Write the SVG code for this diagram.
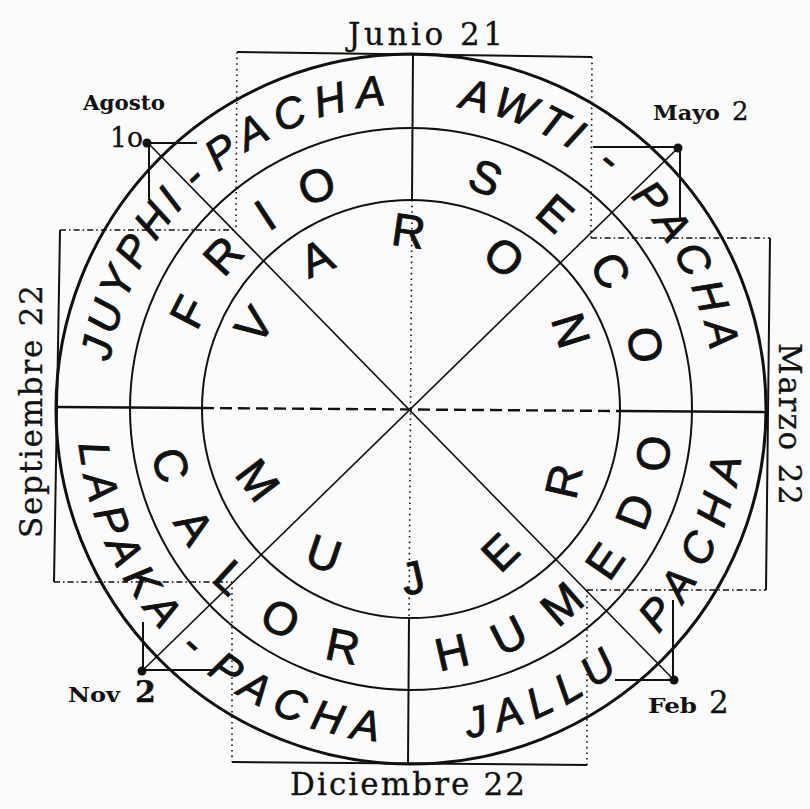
<svg xmlns="http://www.w3.org/2000/svg" xmlns:xlink="http://www.w3.org/1999/xlink" width="810" height="809" viewBox="0 0 810 809">
<style>
.ro{font-family:"Liberation Sans",Arial,sans-serif;font-size:43px;font-style:italic;fill:#111;stroke:#111;stroke-width:0.9}
.rm{font-family:"Liberation Sans",Arial,sans-serif;font-size:46px;fill:#111;stroke:#111;stroke-width:0.9}
.big{font-family:"DejaVu Serif","Liberation Serif",serif;font-size:31px;fill:#111;stroke:#111;stroke-width:0.3}
.sm{font-family:"DejaVu Serif","Liberation Serif",serif;font-size:21px;font-weight:bold;fill:#111}
.num{font-family:"DejaVu Serif","Liberation Serif",serif;fill:#111;stroke:#111;stroke-width:0.3}
.ln{stroke:#111;fill:none}
.dot{stroke:#111;fill:none;stroke-width:1.6;stroke-dasharray:1.6 4}
.dd{stroke:#111;fill:none;stroke-width:1.6;stroke-dasharray:6 3 1.6 3}
</style>
<defs>
<path id="top305" d="M106,409 A305,305 0 1 1 716,409 A305,305 0 1 1 106,409"/>
<path id="bot334" d="M77,409 A334,334 0 1 0 745,409 A334,334 0 1 0 77,409"/>
<path id="top226" d="M185,409 A226,226 0 1 1 637,409 A226,226 0 1 1 185,409"/>
<path id="bot262" d="M149,409 A262,262 0 1 0 673,409 A262,262 0 1 0 149,409"/>
<path id="top160" d="M251,409 A160,160 0 1 1 571,409 A160,160 0 1 1 251,409"/>
<path id="bot181" d="M230,409 A181,181 0 1 0 592,409 A181,181 0 1 0 230,409"/>
</defs>
<rect width="810" height="809" fill="#fbfbfb"/>

<g id="circles">
<circle class="ln" cx="411" cy="409" r="355" stroke-width="3"/>
<circle class="ln" cx="411" cy="409" r="281" stroke-width="2"/>
<circle class="ln" cx="411" cy="409" r="209" stroke-width="2"/>
</g>

<g id="connectors">
<line class="ln" x1="56" y1="407" x2="202" y2="408" stroke-width="2.6"/>
<line class="ln" x1="202" y1="408" x2="620" y2="411" stroke-width="2.4" stroke-dasharray="12 6"/>
<line class="ln" x1="620" y1="411" x2="767" y2="412" stroke-width="2.6"/>
<line class="ln" x1="413" y1="54" x2="412" y2="200" stroke-width="2"/>
<line class="dot" x1="412" y1="200" x2="409" y2="618" stroke-width="2"/>
<line class="ln" x1="409" y1="618" x2="408" y2="764" stroke-width="2"/>
<line class="ln" x1="148" y1="143" x2="674" y2="680" stroke-width="1.6"/>
<line class="ln" x1="678" y1="148" x2="142" y2="671" stroke-width="1.6"/>
<line class="ln" x1="237" y1="52" x2="592" y2="57" stroke-width="2"/>
<line class="dot" x1="237" y1="52" x2="236" y2="230"/>
<line class="dot" x1="592" y1="57" x2="591" y2="238"/>
<line class="dd" x1="60" y1="230" x2="236" y2="230"/>
<line class="ln" x1="60" y1="230" x2="54" y2="582" stroke-width="2"/>
<line class="dd" x1="54" y1="582" x2="232" y2="582"/>
<line class="dot" x1="232" y1="582" x2="232" y2="762"/>
<line class="ln" x1="232" y1="762" x2="587" y2="765" stroke-width="2"/>
<line class="dot" x1="587" y1="590" x2="587" y2="765"/>
<line class="dd" x1="587" y1="590" x2="766" y2="590"/>
<line class="ln" x1="770" y1="238" x2="766" y2="590" stroke-width="2"/>
<line class="dd" x1="591" y1="238" x2="770" y2="238"/>
<line class="ln" x1="147" y1="143" x2="197" y2="143" stroke-width="2"/>
<line class="ln" x1="149" y1="143" x2="149" y2="200" stroke-width="2"/>
<line class="ln" x1="593" y1="147" x2="678" y2="147" stroke-width="2"/>
<line class="ln" x1="680" y1="147" x2="680" y2="220" stroke-width="2"/>
<line class="ln" x1="143" y1="622" x2="143" y2="671" stroke-width="2"/>
<line class="ln" x1="142" y1="670" x2="213" y2="670" stroke-width="2"/>
<line class="ln" x1="615" y1="680" x2="674" y2="680" stroke-width="2"/>
<line class="ln" x1="673" y1="600" x2="673" y2="680" stroke-width="2"/>
<circle cx="147" cy="143" r="4.5" fill="#111"/>
<circle cx="678" cy="148" r="4.5" fill="#111"/>
<circle cx="142" cy="671" r="4.5" fill="#111"/>
<circle cx="674" cy="680" r="4.5" fill="#111"/>
</g>

<g id="outer-ring">
<text class="ro"><textPath href="#top305" xlink:href="#top305" startOffset="47.8"><tspan letter-spacing="4.7">JUYPHI</tspan><tspan letter-spacing="1.1"> - </tspan><tspan letter-spacing="9.6">PACHA</tspan></textPath></text>
<text class="ro"><textPath href="#top305" xlink:href="#top305" startOffset="526.5"><tspan letter-spacing="5.4">AWTI</tspan><tspan letter-spacing="10"> - </tspan><tspan letter-spacing="7.8">PACHA</tspan></textPath></text>
<text class="ro"><textPath href="#bot334" xlink:href="#bot334" startOffset="35.3"><tspan letter-spacing="8.5">LAPAKA</tspan><tspan letter-spacing="5.2"> - </tspan><tspan letter-spacing="10.5">PACHA</tspan></textPath></text>
<text class="ro"><textPath href="#bot334" xlink:href="#bot334" startOffset="582.1"><tspan letter-spacing="9.4">JALLU</tspan><tspan letter-spacing="32.2"> </tspan><tspan letter-spacing="13">PACHA</tspan></textPath></text>
</g>

<g id="middle-ring">
<text class="rm"><textPath href="#top226" xlink:href="#top226" startOffset="77.9" letter-spacing="31.2">FRIO</textPath></text>
<text class="rm"><textPath href="#top226" xlink:href="#top226" startOffset="408.6" letter-spacing="42.3">SECO</textPath></text>
<text class="rm"><textPath href="#bot262" xlink:href="#bot262" startOffset="44.7" letter-spacing="38.2">CALOR</textPath></text>
<text class="rm"><textPath href="#bot262" xlink:href="#bot262" startOffset="439.3" letter-spacing="30">HUMEDO</textPath></text>
</g>

<g id="inner-ring">
<text class="rm"><textPath href="#top160" xlink:href="#top160" startOffset="60.9" letter-spacing="55.5">VARON</textPath></text>
<text class="rm"><textPath href="#bot181" xlink:href="#bot181" startOffset="62.3" letter-spacing="71.8">MUJER</textPath></text>
</g>

<g id="labels">
<text class="big" x="348" y="45" textLength="155" lengthAdjust="spacing">Junio 21</text>
<text class="big" x="290" y="795" textLength="235" lengthAdjust="spacing">Diciembre 22</text>
<text class="big" transform="translate(42,538) rotate(-90)" textLength="253" lengthAdjust="spacing">Septiembre 22</text>
<text class="big" transform="translate(779,343) rotate(90)" textLength="162" lengthAdjust="spacing">Marzo 22</text>
<text class="sm" x="83" y="110" textLength="82" lengthAdjust="spacingAndGlyphs">Agosto</text>
<text class="num" x="110" y="147" font-size="28" textLength="33" lengthAdjust="spacingAndGlyphs">1o</text>
<text class="sm" x="653" y="120" font-size="22" textLength="67" lengthAdjust="spacingAndGlyphs">Mayo</text>
<text class="num" x="732" y="120" font-size="26">2</text>
<text class="sm" x="68" y="702" font-size="22" textLength="52" lengthAdjust="spacingAndGlyphs">Nov</text>
<text class="num" x="135" y="702" font-size="30" font-weight="bold">2</text>
<text class="sm" x="648" y="713" font-size="22" textLength="49" lengthAdjust="spacingAndGlyphs">Feb</text>
<text class="num" x="709" y="713" font-size="31">2</text>
</g>
</svg>
